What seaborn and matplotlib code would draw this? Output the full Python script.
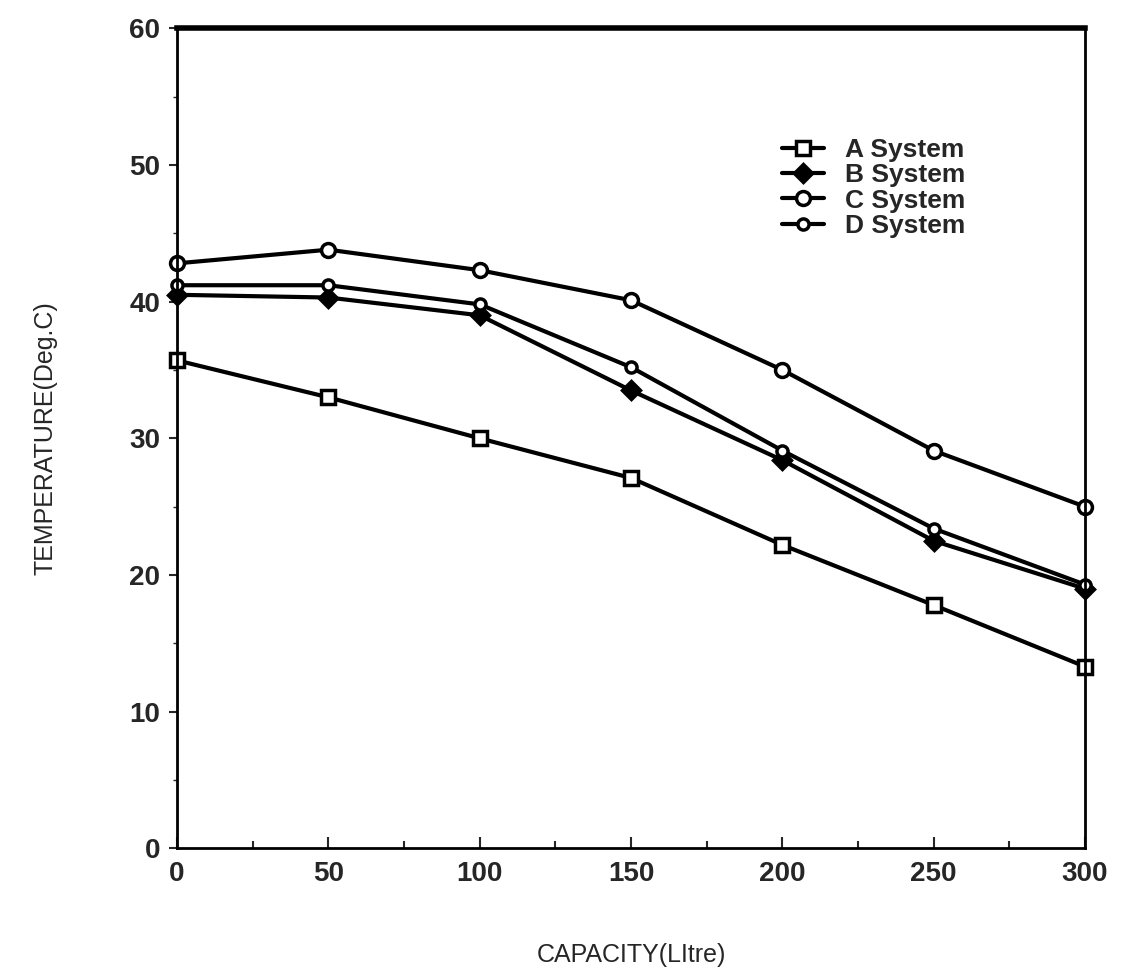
import matplotlib
matplotlib.use("Agg")
import matplotlib.pyplot as plt
import seaborn as sns
import pandas as pd
from matplotlib.ticker import MultipleLocator

capacity = [0, 50, 100, 150, 200, 250, 300]
a_system = [35.7, 33.0, 30.0, 27.1, 22.2, 17.8, 13.3]
b_system = [40.5, 40.3, 39.0, 33.5, 28.4, 22.5, 19.0]
c_system = [42.8, 43.8, 42.3, 40.1, 35.0, 29.1, 25.0]
d_system = [41.2, 41.2, 39.8, 35.2, 29.1, 23.4, 19.3]
series_names = ["A System", "B System", "C System", "D System"]

rows = []
for name, vals in zip(series_names, [a_system, b_system, c_system, d_system]):
    for x, v in zip(capacity, vals):
        rows.append({"CAPACITY": x, "TEMP": v, "Series": name})
df = pd.DataFrame(rows)

sns.set_theme(style="ticks")
plt.rcParams['font.family'] = ['Liberation Sans', 'DejaVu Sans']

fig = plt.figure(figsize=(11.35, 9.73), dpi=100)
ax = fig.add_axes([0.156, 0.128, 0.8, 0.843])

markers = {"A System": "s", "B System": "D", "C System": "o", "D System": "o"}
sns.lineplot(data=df, x="CAPACITY", y="TEMP", hue="Series", style="Series",
             markers=markers, dashes=False, palette=["black"] * 4, ax=ax,
             linewidth=3, markersize=9, legend=False)

face = {"A System": "white", "B System": "black", "C System": "white", "D System": "white"}
sizes = {"A System": 10, "B System": 9, "C System": 10, "D System": 8}
for line, name in zip(ax.get_lines(), series_names):
    line.set_markerfacecolor(face[name])
    line.set_markeredgecolor("black")
    line.set_markeredgewidth(2.5)
    line.set_markersize(sizes[name])
    line.set_clip_on(False)
    line.set_label(name)

ax.set_xlim(0, 300)
ax.set_ylim(0, 60)
ax.xaxis.set_major_locator(MultipleLocator(50))
ax.xaxis.set_minor_locator(MultipleLocator(25))
ax.yaxis.set_major_locator(MultipleLocator(10))
ax.yaxis.set_minor_locator(MultipleLocator(5))
ax.tick_params(axis="x", which="both", direction="in", length=8, width=1.5, labelsize=20, pad=9)
ax.tick_params(axis="x", which="minor", length=5)
ax.tick_params(axis="y", which="major", direction="out", length=6, width=1.5, labelsize=20, pad=6)
ax.tick_params(axis="y", which="minor", direction="out", length=3, width=1)
for lbl in ax.get_xticklabels() + ax.get_yticklabels():
    lbl.set_fontweight("bold")
for s in ax.spines.values():
    s.set_visible(True)
    s.set_color("black")
ax.spines["left"].set_linewidth(2)
ax.spines["bottom"].set_linewidth(2)
ax.spines["top"].set_linewidth(4)
ax.spines["right"].set_linewidth(2)

ax.set_xlabel("CAPACITY(LItre)", fontsize=18, labelpad=40)
ax.set_ylabel("TEMPERATURE(Deg.C)", fontsize=18, labelpad=52)

leg = ax.legend(loc="upper left", bbox_to_anchor=(0.64, 0.895), frameon=False,
                fontsize=19, handlelength=1.6, handletextpad=0.8, labelspacing=0.05)
for t in leg.get_texts():
    t.set_fontweight("bold")

fig.savefig("out.png", dpi=100)
